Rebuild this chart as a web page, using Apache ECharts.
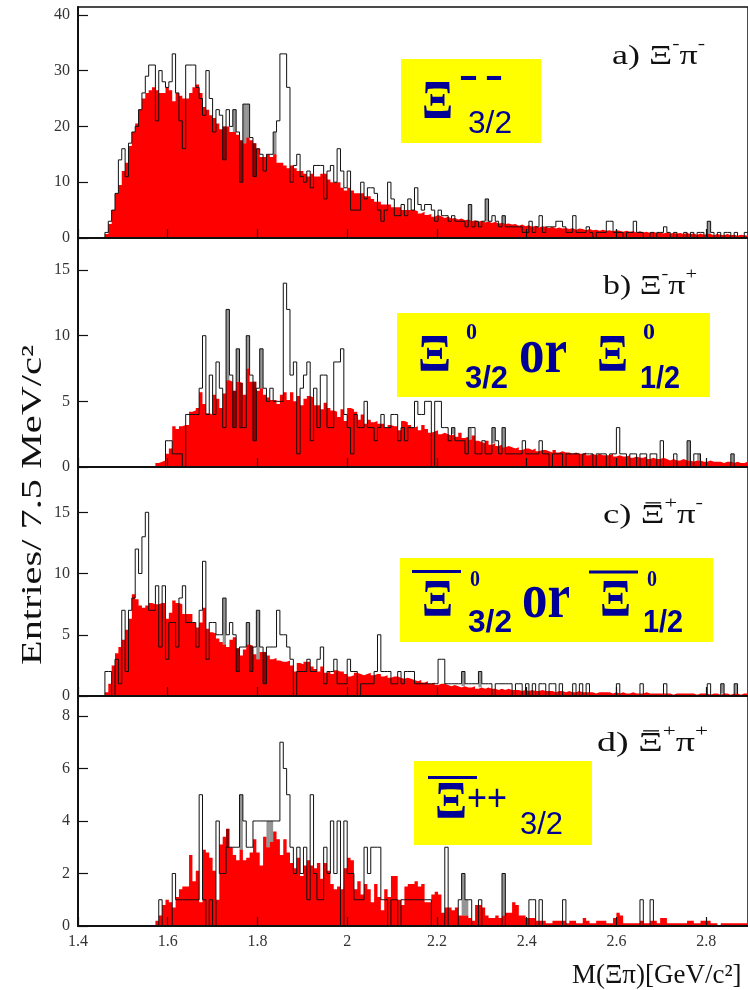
<!DOCTYPE html>
<html>
<head>
<meta charset="utf-8">
<script src="https://cdn.jsdelivr.net/npm/echarts@6/dist/echarts.min.js"></script>
<style>
  html, body { margin: 0; padding: 0; background: #ffffff; }
  #chart { width: 748px; height: 990px; }
</style>
</head>
<body>
<div id="chart"></div>
<script>
// ---- binning: 7.5 MeV bins starting at 1.4 GeV ----
const MASS_MIN = 1.4;
const MASS_MAX = 2.8933;
const BIN_WIDTH = 0.0075;
const massTicks = [1.4, 1.6, 1.8, 2.0, 2.2, 2.4, 2.6, 2.8];

// a) Xi- pi-
const bkgA = [
  0,0,0,0,0,0,0,0,0.7,2.5,
  5,8,9.5,12,13.5,16.5,19,20.5,23,25,
  26,26.5,27,26.5,26,26,27,26.5,24.5,26,
  25.5,25,25,26,27,27.5,26,23.5,23,22,
  21.5,20.5,19.5,20,20,19,19,18.5,17.5,17,
  18,17.5,17,16,14.5,14.5,15,14.5,15,13.5,
  13.5,13,12.5,13,12.5,12,12,11.5,11,11.5,
  11,11,11.5,11.5,10.5,10,10,10,9,8.5,
  9,8.5,8,8,8,7.5,7.5,7,6.5,6.5,
  6,6,6,5.5,5.5,5.5,5,5,5,5,
  4.8,4.4,4.7,4.1,4.3,3.8,4.1,3.9,3.6,3.8,
  3.5,3.6,3.3,3.5,3.2,3.3,3.0,3.2,2.9,3.1,
  2.8,3.0,2.7,2.9,2.6,2.7,2.5,2.6,2.4,2.5,
  2.2,2.4,2.1,2.3,2.0,2.2,1.9,2.1,2.0,1.8,
  2.0,1.7,1.9,1.7,1.8,1.6,1.8,1.5,1.7,1.6,
  1.4,1.6,1.4,1.5,1.3,1.5,1.3,1.4,1.2,1.4,
  1.3,1.1,1.3,1.1,1.2,1.0,1.2,1.0,1.1,0.9,
  1.1,0.9,1.0,0.8,1.0,0.8,0.9,0.8,0.9,0.7,
  0.9,0.7,0.8,0.6,0.8,0.6,0.7,0.7,0.5,0.7,
  0.6,0.5,0.7,0.5,0.6,0.4,0.6,0.5,0.4
];
const dataA = [
  0,0,0,0,0,0,0,0,1,3,
  5,8,14,16,11,17,19,20,23,26,
  29,31,31,21,30,28,27,28,33,26,
  21,16,31,31,31,27,25,22,30,25,
  19,23,22,14,23,20,23,19,10,24,
  24,18,11,16,15,12,15,15,19,21,
  33,33,27,10,13,15,11,10,12,9,
  13,13,13,7,12,13,10,16,12,9,
  12,5,5,5,10,7,9,9,8,5,
  3,5,10,7,4,4,6,4,7,5,
  9,6,5,6,6,5,3,5,4,4,
  3,4,3,3,3,2,6,2,3,2,
  3,7,3,4,3,2,4,2,2,2,
  2,2,1,1,3,1,2,4,1,2,
  2,2,3,3,2,1,1,4,1,1,
  1,2,1,0,1,1,1,3,3,1,
  1,1,0,1,1,3,1,1,0,0,
  1,0,1,1,2,1,0,1,0,0,
  1,0,1,0,1,1,0,3,1,0,
  1,0,1,1,0,1,0,0,1
];
const shadeA = [43,46,48,49,50,52,58,116,121,126,187];

// b) Xi- pi+
const bkgB = [
  0,0,0,0,0,0,0,0,0,0,
  0,0,0,0,0,0,0,0,0,0,
  0,0,0,0.3,0.4,0.5,1,1.4,3.1,2.9,
  3.1,3.2,3.2,4.2,4.3,4.5,5.7,4.8,4.1,4,
  5.5,5.2,4.5,5.6,6.6,6.5,5.8,6.5,6.4,5.5,
  7.5,6.5,6.5,5.8,6,5.5,5.3,5.1,5.1,4.8,
  5.5,5.7,5.1,5.7,5,5.4,4.7,5.2,5.4,5.3,
  4.7,4.7,4.4,4.9,4.5,4.3,4.2,3.8,4.4,3.5,
  4.5,4.4,4.2,3.6,4,3.3,3.6,3.4,3.5,3.3,
  3.3,3,3.2,3.1,3.1,2.8,3.5,3.4,3.2,3,
  3.1,2.8,3.2,2.9,2.6,2.7,2.8,2.5,2.6,2.5,
  2.4,2.5,2.3,2.6,2.2,2.3,2.1,2.4,2,1.9,
  1.8,2,1.7,1.8,1.6,1.7,1.5,1.6,1.5,1.4,
  1.5,1.3,1.4,1.4,1.3,1.4,1.2,1.3,1.3,1.2,
  1.1,1.3,1.1,1.2,1.1,1.1,1,1.1,1,1,
  1.1,0.9,1,0.9,1,0.9,0.9,0.9,1,0.8,
  0.9,0.8,0.8,0.9,0.7,0.8,0.7,0.7,0.8,0.6,
  0.7,0.6,0.6,0.7,0.6,0.5,0.6,0.5,0.5,0.6,
  0.5,0.5,0.4,0.5,0.5,0.4,0.4,0.5,0.4,0.4,
  0.4,0.3,0.4,0.4,0.3,0.4,0.3,0.3,0.4
];
const dataB = [
  0,0,0,0,0,0,0,0,0,0,
  0,0,0,0,0,0,0,0,0,0,
  0,0,0,0,0,0,2,2,1,1,
  1,0,4,4,4,4,6,10,4,7,
  4,8,6,3,12,7,3,9,3,3,
  10,7,2,6,9,6,5,6,5,5,
  5,14,12,7,8,1,6,7,8,2,
  6,3,7,7,3,3,8,8,9,4,
  3,1,4,3,3,5,3,3,2,3,
  4,3,3,4,4,2,3,2,3,3,
  5,4,4,5,5,0,5,5,3,3,
  2,3,2,2,2,1,3,3,1,1,
  2,1,1,3,2,1,3,1,1,1,
  1,1,2,1,1,1,1,2,1,1,
  0,1,1,1,0,1,1,1,1,0,
  1,1,1,0,1,1,1,0,1,1,
  3,1,1,0,1,1,0,1,1,0,
  1,1,0,2,0,0,0,1,0,0,
  0,2,0,1,1,0,0,0,0,0,
  0,0,0,0,1,0,0,0,0
];
const shadeB = [44,46,47,48,50,52,54,111,116,123,126,181,184,194];

// c) anti-Xi+ pi-
const bkgC = [
  0,0,0,0,0,0,0,0,0.3,1.0,
  2.5,3.5,4,4.6,5.4,6.3,8.3,7.9,7.4,7.2,
  7.4,7.6,7.5,7.5,7.6,7.6,6.3,6.8,7.8,7.6,
  7.5,6.7,6.7,6.7,6.0,5.6,6.0,7.2,5.5,5.2,
  5.1,4.7,4.4,4.2,4.0,4.6,4.8,3.9,3.3,3.8,
  4.2,4.1,3.4,3.0,3.6,3.6,3.3,3.0,3.1,2.9,
  2.8,2.8,2.9,2.5,2.0,2.7,2.6,2.8,2.8,2.4,
  2.2,2.0,2.4,1.9,2.0,1.8,2.1,2.0,2.0,1.8,
  1.6,1.7,1.9,1.8,1.7,1.8,1.9,1.7,1.8,1.8,
  1.6,1.7,1.5,1.6,1.6,1.5,1.4,1.5,1.4,1.3,
  1.2,1.3,1.1,1.2,1.0,1.1,0.9,1.0,1.0,0.9,
  0.8,0.9,0.8,0.7,0.8,0.7,0.7,0.8,0.6,0.7,
  0.6,0.7,0.6,0.6,0.5,0.6,0.5,0.6,0.5,0.5,
  0.5,0.4,0.5,0.4,0.5,0.4,0.4,0.5,0.4,0.4,
  0.4,0.3,0.4,0.4,0.3,0.4,0.3,0.3,0.4,0.3,
  0.3,0.3,0.3,0.2,0.3,0.3,0.3,0.3,0.2,0.3,
  0.2,0.3,0.2,0.2,0.3,0.2,0.2,0.2,0.3,0.2,
  0.2,0.2,0.2,0.2,0.2,0.2,0.1,0.2,0.2,0.2,
  0.2,0.2,0.2,0.1,0.2,0.2,0.2,0.1,0.2,0.2,
  0.1,0.2,0.2,0.1,0.2,0.2,0.1,0.2,0.2
];
const dataC = [
  0,0,0,0,0,0,0,0,2,2,
  0,3,1,7,2,7,8,12,10,13,
  15,7,7,9,4,9,3,6,6,4,
  8,9,6,6,6,4,7,11,3,6,
  6,5,5,8,5,6,5,2,4,4,
  6,2,4,7,4,1,4,4,4,7,
  5,5,4,3,0,2,2,2,3,2,
  2,3,4,1,2,2,3,1,1,1,
  3,2,2,0,1,1,1,1,2,5,
  2,2,2,1,1,2,1,2,2,2,
  1,1,1,1,1,1,1,3,3,1,
  1,1,1,1,2,1,1,1,1,2,
  1,1,1,0,1,1,1,1,1,0,
  1,1,0,1,0,1,0,1,1,0,
  1,1,0,1,0,0,0,1,0,1,
  0,1,0,0,0,0,0,0,0,0,
  1,0,0,0,0,0,0,1,0,0,
  0,0,0,0,1,0,0,0,0,0,
  0,0,0,0,0,0,0,1,0,0,
  0,1,0,0,0,1,0,0,0
];
const shadeC = [43,47,50,51,53,55,114,119,191,195];

// d) anti-Xi+ pi+
const bkgD = [
  0,0,0,0,0,0,0,0,0,0,
  0,0,0,0,0,0,0,0,0,0,
  0,0,0,0.2,0.4,0.8,1.0,0.9,0.7,1.1,
  1.4,1.5,1.5,2.7,1.7,2.1,0.9,2.9,2.8,2.6,
  2.1,1.0,3.1,3.4,3.7,3.0,2.7,2.5,2.9,2.5,
  2.6,2.8,3.3,2.8,2.3,3.4,3.0,3.2,3.6,3.3,
  2.7,3.3,2.8,2.4,2.2,2.6,1.9,2.3,2.5,2.3,
  2.2,2.4,1.8,2.4,2.1,1.6,1.4,1.5,1.4,2.2,
  2.6,2.5,1.4,1.7,1.2,1.6,1.4,0.9,1.6,1.1,
  0.6,1.4,1.1,1.9,1.9,1.0,0.8,1.5,1.6,1.6,
  1.7,1.5,1.6,0.9,0.9,1.2,1.3,1.2,0.5,0.7,
  0.7,0.6,0.7,0.4,0.4,0.4,0.3,0.2,0.8,0.8,
  0.7,0.4,0.3,0.3,0.4,0.3,0.4,0.5,0.5,0.9,
  0.8,0.4,0.4,0.3,0.3,0.3,0.2,0.2,0.2,0.1,
  0.1,0.2,0.2,0.2,0.2,0.1,0.2,0.2,0.1,0.1,
  0.3,0.2,0.1,0.1,0.2,0.2,0.2,0.1,0.1,0.3,
  0.5,0.4,0.1,0.1,0.1,0.1,0.1,0.2,0.1,0.1,
  0.2,0.2,0.1,0.3,0.3,0.1,0.1,0.1,0.1,0.1,
  0.1,0.2,0.2,0.1,0.1,0.2,0.2,0.2,0.1,0.1,
  0,0.1,0.1,0.1,0.1,0.1,0.1,0.1,0.1
];
const dataD = [
  0,0,0,0,0,0,0,0,0,0,
  0,0,0,0,0,0,0,0,0,0,
  0,0,0,0,1,0,0,0,2,1,
  1,1,1,1,1,1,5,1,0,1,
  0,4,2,2,3,3,3,3,5,4,
  3,3,4,4,4,4,4,4,4,4,
  7,6,5,3,2,3,2,3,1,5,
  2,1,1,3,2,4,2,4,0,4,
  2,2,1,1,1,3,2,3,3,3,
  1,1,0,1,1,0,1,1,1,1,
  1,1,1,1,1,0,0,0,0,3,
  0,0,0,1,2,1,1,0,0,1,
  0,0,0,0,0,0,2,0,0,0,
  0,0,0,0,1,1,0,1,0,0,
  0,0,0,0,1,0,0,0,0,0,
  0,0,0,0,0,0,0,0,0,0,
  0,0,0,0,0,0,0,1,0,0,
  1,0,0,0,0,0,0,0,0,0,
  0,0,0,0,0,0,0,0,0,0,
  0,0,0,0,0,0,0,0,0
];
const shadeD = [44,48,56,57,114,115,126];

const yTicksA = [0, 10, 20, 30, 40];
const yTicksB = [0, 5, 10, 15];
const yTicksC = [0, 5, 10, 15];
const yTicksD = [0, 2, 4, 6, 8];

const panels = [
  { bkg: bkgA, data: dataA, shade: shadeA, ticks: yTicksA, yMax: 41.4, top: 7,   height: 231 },
  { bkg: bkgB, data: dataB, shade: shadeB, ticks: yTicksB, yMax: 17.44, top: 238, height: 229 },
  { bkg: bkgC, data: dataC, shade: shadeC, ticks: yTicksC, yMax: 18.7, top: 467, height: 229 },
  { bkg: bkgD, data: dataD, shade: shadeD, ticks: yTicksD, yMax: 8.76, top: 696, height: 230 }
];

const SERIF = '"Liberation Serif","Times New Roman",serif';
const SANS = '"Liberation Sans",Arial,sans-serif';
const INK = '#111111';
const BLUE = '#000099';

// histogram outline points: left edge of each bin, plus closing right edge
function stepPoints(vals) {
  const pts = vals.map((v, k) => [MASS_MIN + k * BIN_WIDTH, v]);
  pts.push([MASS_MIN + vals.length * BIN_WIDTH, vals[vals.length - 1]]);
  return pts;
}

// bins where the gap between data and background is shaded
function shadeRects(p) {
  return p.shade.map(k => {
    const a = p.bkg[k], b = p.data[k];
    return [MASS_MIN + k * BIN_WIDTH, MASS_MIN + (k + 1) * BIN_WIDTH, Math.min(a, b), Math.max(a, b)];
  });
}

const grids = [], xAxes = [], yAxes = [], series = [];
panels.forEach((p, i) => {
  grids.push({ left: 78, right: -2, top: p.top, height: p.height, show: true,
    borderColor: INK, borderWidth: 1.5, backgroundColor: 'transparent' });
  xAxes.push({
    type: 'value', gridIndex: i, min: MASS_MIN, max: MASS_MAX, z: 5,
    axisLine: { show: true, onZero: false, lineStyle: { color: INK, width: 2 } },
    axisTick: { show: true, inside: true, length: 9, customValues: massTicks, lineStyle: { color: INK, width: 1.2 } },
    axisLabel: { show: i === 3, customValues: massTicks, color: '#333', fontFamily: SERIF, fontSize: 16, margin: 8,
      formatter: v => String(Math.round(v * 10) / 10) },
    splitLine: { show: false }
  });
  yAxes.push({
    type: 'value', gridIndex: i, min: 0, max: p.yMax, z: 5,
    axisLine: { show: true, onZero: false, lineStyle: { color: INK, width: 2 } },
    axisTick: { show: true, inside: true, length: 10, customValues: p.ticks, lineStyle: { color: INK, width: 1.2 } },
    axisLabel: { customValues: p.ticks, color: '#333', fontFamily: SERIF, fontSize: 16, margin: 8 },
    splitLine: { show: false }
  });
  series.push({
    type: 'line', xAxisIndex: i, yAxisIndex: i, step: 'end', data: stepPoints(p.bkg),
    showSymbol: false, lineStyle: { width: 0, color: '#ff0000' },
    areaStyle: { color: '#ff0000', opacity: 1 }, z: 2, silent: true
  });
  series.push({
    type: 'custom', xAxisIndex: i, yAxisIndex: i, data: shadeRects(p), z: 3, silent: true,
    encode: { x: [0, 1], y: [2, 3] },
    renderItem: (params, api) => {
      const a = api.coord([api.value(0), api.value(3)]);
      const b = api.coord([api.value(1), api.value(2)]);
      return { type: 'rect', shape: { x: a[0], y: a[1], width: b[0] - a[0], height: b[1] - a[1] },
        style: { fill: 'rgba(0,0,0,0.42)' } };
    }
  });
  series.push({
    type: 'line', xAxisIndex: i, yAxisIndex: i, step: 'end', data: stepPoints(p.data),
    showSymbol: false, lineStyle: { width: 1, color: INK }, z: 4, silent: true
  });
});

// ---- text helpers ----
const measureCtx = document.createElement('canvas').getContext('2d');
function measure(text, font) { measureCtx.font = font; return measureCtx.measureText(text).width; }
function textEl(x, y, text, font, color, scaleX, align) {
  return { type: 'text', x, y, scaleX: scaleX || 1, z: 100, silent: true,
    style: { text, font, fill: color, align: align || 'left', verticalAlign: 'middle',
      textAlign: align || 'left', textVerticalAlign: 'middle' } };
}
// text squeezed or stretched to span x0..x1
function fitText(x0, x1, cy, text, size, family, weight, color) {
  const font = weight + ' ' + size + 'px ' + family;
  return textEl(x0, cy, text, font, color, (x1 - x0) / measure(text, font));
}
function overbar(x0, x1, y, color, w) {
  return { type: 'line', z: 100, silent: true, shape: { x1: x0, y1: y, x2: x1, y2: y },
    style: { stroke: color, lineWidth: w } };
}
// panel title with superscripts, fitted to x0..x1
function titleRun(x0, x1, cy, size, parts) {
  const fonts = parts.map(p => 'normal ' + (p.sup ? Math.round(size * 0.62) : size) + 'px ' + SERIF);
  const widths = parts.map((p, i) => measure(p.text, fonts[i]));
  const s = (x1 - x0) / widths.reduce((a, b) => a + b, 0);
  const out = [];
  let x = x0;
  parts.forEach((p, i) => {
    out.push(textEl(x, cy + (p.sup ? -size * 0.46 : 0), p.text, fonts[i], INK, s));
    if (p.bar) {
      const w = widths[i] * s;
      out.push(overbar(x + w * 0.2, x + w * 0.85, cy - size * 0.47, INK, 1.3));
    }
    x += widths[i] * s;
  });
  return out;
}
function box(x, y, w, h) {
  return { type: 'rect', z: 99, silent: true, shape: { x, y, width: w, height: h }, style: { fill: '#ffff00' } };
}

const graphics = [];
// axis titles
(function () {
  const yFont = 'normal 29px ' + SERIF;
  const t = 'Entries/ 7.5 MeV/c²';
  graphics.push(Object.assign(textEl(33, 505, t, yFont, INK, 320 / measure(t, yFont), 'center'), { rotation: Math.PI / 2 }));
  graphics.push(textEl(572, 976, 'M(Ξπ)[GeV/c²]', 'normal 27px ' + SERIF, INK, 1));
})();

// panel titles
graphics.push(...titleRun(612, 705, 57, 28, [{ text: 'a) Ξ' }, { text: '-', sup: true }, { text: 'π' }, { text: '-', sup: true }]));
graphics.push(...titleRun(603, 697, 287, 28, [{ text: 'b) Ξ' }, { text: '-', sup: true }, { text: 'π' }, { text: '+', sup: true }]));
graphics.push(...titleRun(603, 703, 516, 28, [{ text: 'c) ' }, { text: 'Ξ', bar: true }, { text: '+', sup: true }, { text: 'π' }, { text: '-', sup: true }]));
graphics.push(...titleRun(597, 708, 744, 28, [{ text: 'd) ' }, { text: 'Ξ', bar: true }, { text: '+', sup: true }, { text: 'π' }, { text: '+', sup: true }]));

// resonance tags
graphics.push(box(401, 59, 140, 84));
graphics.push(fitText(422, 453, 104, 'Ξ', 54, SERIF, 'bold', BLUE));
graphics.push(fitText(460, 477, 78, '–', 40, SANS, 'bold', BLUE));
graphics.push(fitText(486, 502, 78, '–', 40, SANS, 'bold', BLUE));
graphics.push(fitText(468, 512, 124, '3/2', 32, SANS, 'normal', BLUE));

graphics.push(box(397, 313, 313, 84));
graphics.push(fitText(418, 451, 358, 'Ξ', 52, SERIF, 'bold', BLUE));
graphics.push(fitText(466, 477, 333, '0', 24, SERIF, 'bold', BLUE));
graphics.push(fitText(465, 508, 379, '3/2', 32, SANS, 'bold', BLUE));
graphics.push(fitText(519, 567, 355, 'or', 64, SERIF, 'bold', BLUE));
graphics.push(fitText(597, 628, 358, 'Ξ', 52, SERIF, 'bold', BLUE));
graphics.push(fitText(643, 655, 333, '0', 24, SERIF, 'bold', BLUE));
graphics.push(fitText(640, 680, 379, '1/2', 32, SANS, 'bold', BLUE));

graphics.push(box(400, 558, 313, 84));
graphics.push(overbar(412, 461, 571.5, BLUE, 3));
graphics.push(fitText(422, 453, 603, 'Ξ', 52, SERIF, 'bold', BLUE));
graphics.push(fitText(470, 480, 580, '0', 24, SERIF, 'bold', BLUE));
graphics.push(fitText(468, 512, 623, '3/2', 32, SANS, 'bold', BLUE));
graphics.push(fitText(522, 570, 600, 'or', 64, SERIF, 'bold', BLUE));
graphics.push(overbar(589, 638, 572, BLUE, 3));
graphics.push(fitText(600, 631, 603, 'Ξ', 52, SERIF, 'bold', BLUE));
graphics.push(fitText(647, 657, 580, '0', 24, SERIF, 'bold', BLUE));
graphics.push(fitText(643, 683, 623, '1/2', 32, SANS, 'bold', BLUE));

graphics.push(box(414, 761, 178, 84));
graphics.push(overbar(428, 477, 777.5, BLUE, 3));
graphics.push(fitText(435, 467, 805, 'Ξ', 52, SERIF, 'bold', BLUE));
graphics.push(fitText(467, 507, 800, '++', 36, SANS, 'normal', BLUE));
graphics.push(fitText(520, 563, 825, '3/2', 32, SANS, 'normal', BLUE));

const chart = echarts.init(document.getElementById('chart'), null, { renderer: 'canvas' });
chart.setOption({
  animation: false,
  backgroundColor: '#ffffff',
  grid: grids,
  xAxis: xAxes,
  yAxis: yAxes,
  series: series,
  graphic: { elements: graphics }
});
</script>
</body>
</html>
